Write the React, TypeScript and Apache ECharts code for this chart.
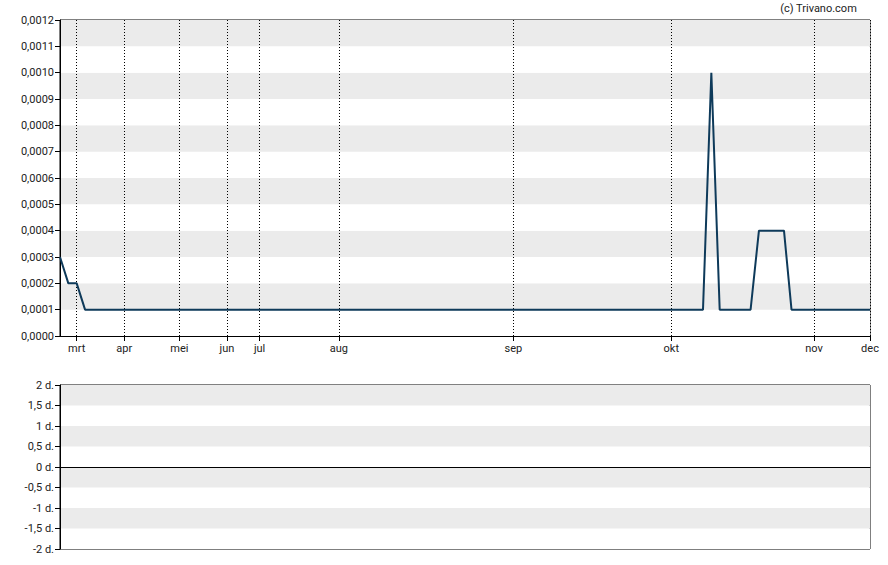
import React, { useEffect, useRef } from "react";
import * as echarts from "echarts";

// Price series: x = trading-day position, y = price
const priceX = [0, 1.0, 2.0, 3.0, 77.0, 78.0, 79.0, 82.7, 83.7, 86.7, 87.6, 97];
const priceY = [0.0003, 0.0002, 0.0002, 0.0001, 0.0001, 0.001, 0.0001, 0.0001, 0.0004, 0.0004, 0.0001, 0.0001];

// Month markers on the x axis
const monthLabels = ["mrt", "apr", "mei", "jun", "jul", "aug", "sep", "okt", "nov", "dec"];
const monthPos = [2.0, 7.7, 14.3, 20.0, 23.9, 33.4, 54.3, 73.2, 90.3, 97];

const xMin = 0;
const xMax = 97;

// Top axis range
const priceMin = 0;
const priceMax = 0.0012;
const priceStep = 0.0001;

// Bottom axis range
const volMin = -2;
const volMax = 2;
const volStep = 0.5;

const FONT = "Roboto, Arial, sans-serif";
const TXT = "#222";

export default function App() {
  const ref = useRef<HTMLDivElement>(null);

  useEffect(() => {
    if (!ref.current) return;
    const chart = echarts.init(ref.current, undefined, { renderer: "svg" });

    const option: any = {
      animation: false,
      backgroundColor: "#fff",
      textStyle: { fontFamily: FONT },
      graphic: [
        {
          type: "text",
          right: 31,
          top: 3,
          style: { text: "(c) Trivano.com", fill: TXT, font: `11px ${FONT}` },
        },
      ],
      grid: [
        { left: 60, right: 18, top: 20, bottom: 229, show: true, borderColor: "#000", borderWidth: 1, backgroundColor: "transparent" },
        { left: 60, right: 18, top: 385, bottom: 16, show: true, borderColor: "#000", borderWidth: 1, backgroundColor: "transparent" },
      ],
      xAxis: [
        {
          type: "value",
          gridIndex: 0,
          min: xMin,
          max: xMax,
          axisLine: { show: true, onZero: false, lineStyle: { color: "#000", width: 1 } },
          axisTick: { show: true, length: 5, customValues: monthPos, lineStyle: { color: "#000" } },
          axisLabel: {
            show: true,
            customValues: monthPos,
            margin: 7,
            color: TXT,
            fontSize: 11,
            fontFamily: FONT,
            formatter: (v: number) => {
              const idx = monthPos.findIndex((p) => Math.abs(p - v) < 1e-6);
              return idx >= 0 ? monthLabels[idx] : "";
            },
          },
          splitLine: { show: true, lineStyle: { color: "#000", type: [1, 2], width: 1 } },
        },
        {
          type: "value",
          gridIndex: 1,
          min: xMin,
          max: xMax,
          axisLine: { show: true, onZero: true, lineStyle: { color: "#000", width: 1 } },
          axisTick: { show: false },
          axisLabel: { show: false },
          splitLine: { show: false },
        },
      ],
      yAxis: [
        {
          type: "value",
          gridIndex: 0,
          min: priceMin,
          max: priceMax,
          interval: priceStep,
          axisLine: { show: true, lineStyle: { color: "#000" } },
          axisTick: { show: true, length: 5, lineStyle: { color: "#000" } },
          axisLabel: {
            margin: 6,
            color: TXT,
            fontSize: 11,
            fontFamily: FONT,
            formatter: (v: number) => v.toFixed(4).replace(".", ","),
          },
          splitLine: { show: false },
          splitArea: { show: true, areaStyle: { color: ["#ffffff", "#ebebeb"] } },
        },
        {
          type: "value",
          gridIndex: 1,
          min: volMin,
          max: volMax,
          interval: volStep,
          axisLine: { show: true, lineStyle: { color: "#000" } },
          axisTick: { show: true, length: 5, lineStyle: { color: "#000" } },
          axisLabel: {
            margin: 6,
            color: TXT,
            fontSize: 11,
            fontFamily: FONT,
            formatter: (v: number) => String(v).replace(".", ",") + " d.",
          },
          splitLine: { show: false },
          splitArea: { show: true, areaStyle: { color: ["#ffffff", "#ebebeb"] } },
        },
      ],
      series: [
        {
          type: "line",
          xAxisIndex: 0,
          yAxisIndex: 0,
          data: priceX.map((x, i) => [x, priceY[i]]),
          showSymbol: false,
          symbol: "none",
          lineStyle: { color: "#0e3a5a", width: 2 },
          z: 5,
        },
      ],
    };
    chart.setOption(option);
    return () => chart.dispose();
  }, []);

  return (
    <div
      ref={ref}
      style={{ position: "fixed", left: 0, top: 0, width: 888, height: 565 }}
    />
  );
}
